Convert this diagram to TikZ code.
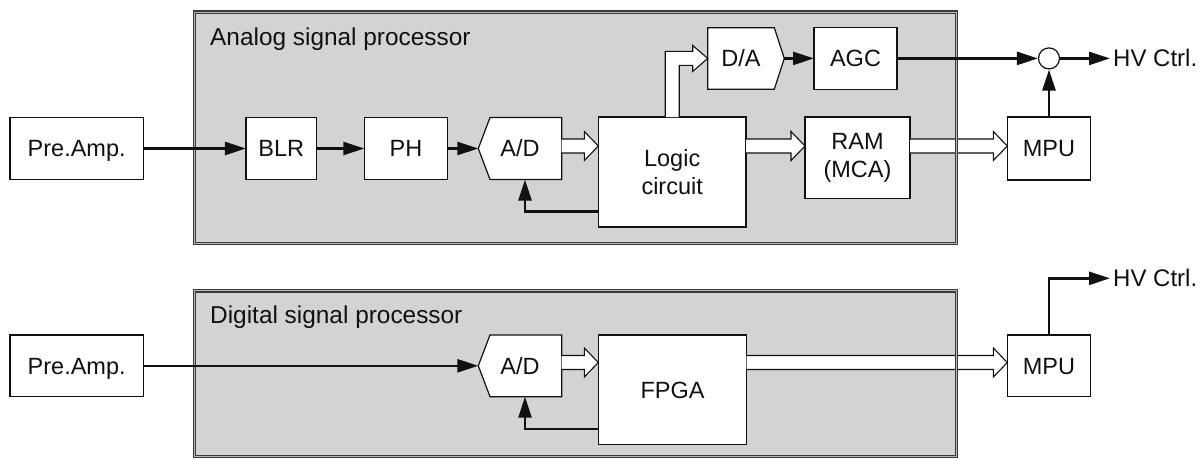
\documentclass[tikz,border=0pt]{standalone}
\usepackage{fontspec}
\setmainfont{Liberation Sans}
\usetikzlibrary{arrows.meta,calc}
\definecolor{panelfill}{HTML}{D1D3D5}
\definecolor{framecol}{HTML}{3A3A3C}
\definecolor{framegap}{HTML}{B5B6B8}
\definecolor{ink}{HTML}{111111}
\pgfdeclarelayer{bglayer}
\pgfdeclarelayer{midlayer}
\pgfsetlayers{bglayer,midlayer,main}
\newcommand\hollowH[2]{\draw[hollow] let \p1=(#1), \p2=(#2) in
  (\x1,\y1+7pt) -- (\x2-14pt,\y1+7pt) -- (\x2-14pt,\y1+14.5pt) -- (\x2,\y1)
  -- (\x2-14pt,\y1-14.5pt) -- (\x2-14pt,\y1-7pt) -- (\x1,\y1-7pt);}
\begin{document}
\begin{tikzpicture}[x=1pt,y=-1pt,
  txt/.style={font=\fontsize{23.5pt}{28pt}\selectfont, text=ink},
  blockbox/.style={txt, draw=ink, line width=1.2pt, fill=white, inner sep=0pt, outer sep=0pt, text height=16.8pt, text depth=0pt},
  blockboxtwo/.style={txt, draw=ink, line width=1.2pt, fill=white, inner sep=0pt, outer sep=0pt, align=center},
  convbox/.style={txt, inner sep=0pt, outer sep=0pt, text height=16.8pt, text depth=0pt},
  pent/.style={draw=ink, line width=1.2pt, fill=white, line join=miter},
  sig/.style={draw=ink, line width=2.5pt, -{Triangle[length=21pt,width=13pt]}},
  hollow/.style={draw=ink, line width=1.1pt, fill=white, line join=miter},
  panelbox/.style={draw=framecol, line width=1.2pt, double=framegap, double distance=1.3pt, fill=panelfill, inner sep=0pt, outer sep=0pt},
  panelframe/.style={draw=framecol, line width=1.2pt, double=framegap, double distance=1.3pt},
  paneltitle/.style={font=\fontsize{24.4pt}{28pt}\selectfont, text=ink, inner sep=0pt, anchor=base west},
  hvtext/.style={font=\fontsize{24pt}{28pt}\selectfont, text=ink, inner sep=0pt, text height=17pt, text depth=0pt, anchor=west}
]
\useasboundingbox (0,0) rectangle (1203,459);
% panels
\begin{pgfonlayer}{bglayer}
\node[panelbox, minimum width=762pt, minimum height=231.2pt] (apanel) at (575.5,127.9) {};
\node[panelbox, minimum width=762pt, minimum height=165.7pt] (bpanel) at (575.5,373.65) {};
\end{pgfonlayer}
\node[paneltitle] (atitle) at (210,45) {Analog signal processor};
\node[paneltitle] (btitle) at (210,323.3) {Digital signal processor};
% top blocks
\node[blockbox, minimum width=133.3pt, minimum height=62.3pt] (pre1) at (76.7,148.5) {Pre.Amp.};
\node[blockbox, minimum width=70.7pt, minimum height=62pt] (blr) at (281.3,148.5) {BLR};
\node[blockbox, minimum width=83.4pt, minimum height=62pt] (ph) at (406,148.5) {PH};
\node[convbox, minimum width=83.4pt, minimum height=62pt] (ad1) at (520,148.5) {A/D};
\node[blockboxtwo, minimum width=147.7pt, minimum height=110pt] (logic) at (672.2,172) {Logic\\circuit};
\node[convbox, minimum width=66.6pt, minimum height=61.5pt] (da) at (741,58.4) {D/A};
\node[blockbox, minimum width=83pt, minimum height=61.5pt] (agc) at (855.5,58.4) {AGC};
\node[blockboxtwo, minimum width=105pt, minimum height=81.3pt] (ram) at (857.5,157.7) {RAM\\(MCA)};
\node[blockbox, minimum width=83.4pt, minimum height=63pt] (mpu1) at (1049,148.5) {MPU};
\node[draw=ink, line width=1.2pt, fill=white, circle, minimum size=21pt, inner sep=0pt] (sum) at (1049,58.4) {};
\node[hvtext] (hv1) at (1113,58.4) {HV Ctrl.};
% bottom blocks
\node[blockbox, minimum width=133.3pt, minimum height=61.7pt] (pre2) at (76.7,365.8) {Pre.Amp.};
\node[convbox, minimum width=83.4pt, minimum height=61.7pt] (ad2) at (520,365.8) {A/D};
\node[blockbox, minimum width=148.4pt, minimum height=109.3pt] (fpga) at (672.5,389.7) {FPGA};
\node[blockbox, minimum width=83.4pt, minimum height=61.7pt] (mpu2) at (1049,365.8) {MPU};
\node[hvtext] (hv2) at (1113,278.3) {HV Ctrl.};
% converter outlines
\begin{pgfonlayer}{midlayer}
\draw[pent] (ad1.north east) -- (ad1.south east) -- ([xshift=11.7pt]ad1.south west) -- (ad1.west) -- ([xshift=11.7pt]ad1.north west) -- cycle;
\draw[pent] (ad2.north east) -- (ad2.south east) -- ([xshift=11.7pt]ad2.south west) -- (ad2.west) -- ([xshift=11.7pt]ad2.north west) -- cycle;
\draw[pent] (da.north west) -- (da.north east) -- ([xshift=10pt]da.east) -- (da.south east) -- (da.south west) -- cycle;
\end{pgfonlayer}
% data buses
\coordinate (busA) at (0,146);
\coordinate (busB) at (0,362.5);
\hollowH{ad1.east |- busA}{logic.west}
\hollowH{logic.east |- busA}{ram.west}
\hollowH{ram.east |- busA}{mpu1.west}
\hollowH{ad2.east |- busB}{fpga.west}
\hollowH{fpga.east |- busB}{mpu2.west}
\draw[hollow] let \p1=(logic.north), \p2=(da.west) in
  (\x1-7pt,\y1) -- (\x1-7pt,\y2+7pt) -- (\x2-15pt,\y2+7pt) -- (\x2-15pt,\y2+13pt) -- (\p2)
  -- (\x2-15pt,\y2-13pt) -- (\x2-15pt,\y2-7pt) -- (\x1+7pt,\y2-7pt) -- (\x1+7pt,\y1);
% frames over buses
\draw[panelframe] (apanel.north west) rectangle (apanel.south east);
\draw[panelframe] (bpanel.north west) rectangle (bpanel.south east);
% signal lines
\draw[sig] (pre1) -- (blr);
\draw[sig] (blr) -- (ph);
\draw[sig] (ph) -- (ad1.west);
\draw[sig] ([yshift=15.3pt]logic.south west) -| ([xshift=5pt]ad1.south);
\draw[sig] ([xshift=10pt]da.east) -- (agc);
\draw[sig] (agc) -- (sum);
\draw[sig] (sum) -- ([xshift=-3pt]hv1.west);
\draw[sig] (mpu1) -- (sum);
\draw[sig] (pre2) -- (ad2.west);
\draw[sig] ([yshift=15.3pt]fpga.south west) -| ([xshift=5pt]ad2.south);
\draw[sig] (mpu2.north) |- ([xshift=-3pt]hv2.west);
\end{tikzpicture}
\end{document}
